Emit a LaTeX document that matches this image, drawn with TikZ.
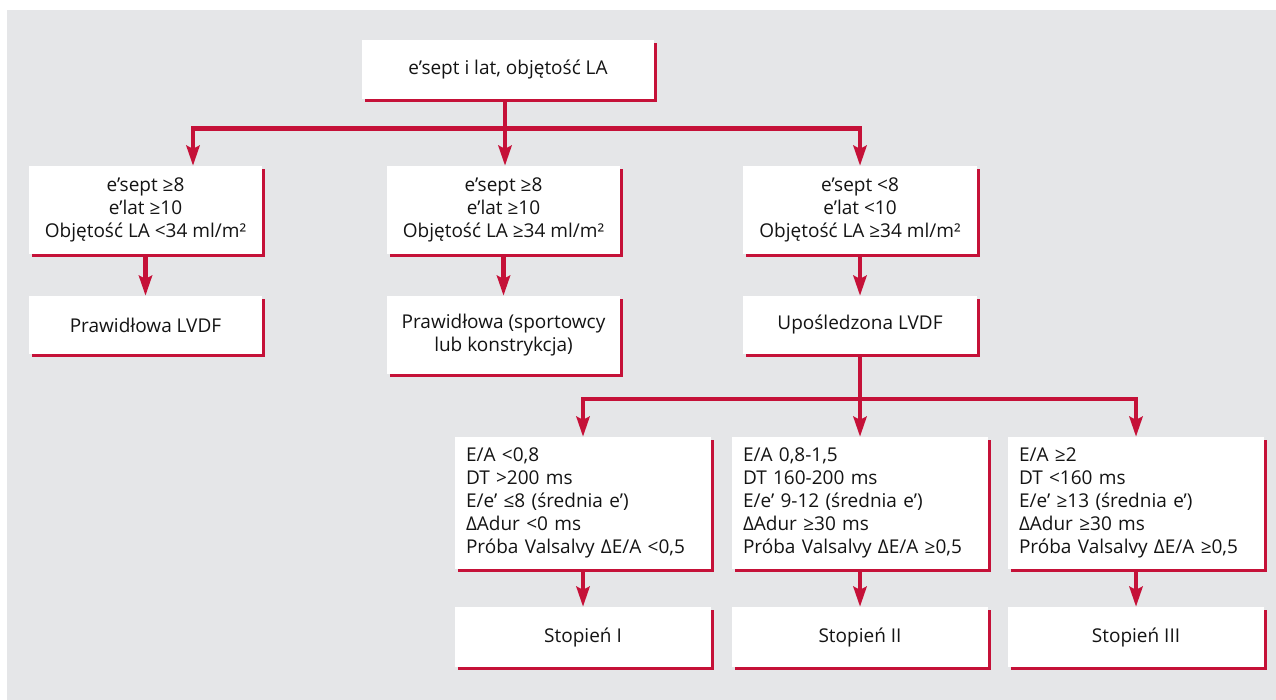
\documentclass[tikz,border=0pt]{standalone}
\usepackage{fontspec}
\setmainfont{Open Sans}
\usetikzlibrary{arrows.meta,shadows}
\definecolor{redc}{RGB}{197,17,56}
\definecolor{bgc}{RGB}{229,230,232}
\definecolor{txt}{RGB}{20,20,20}
\begin{document}
\begin{tikzpicture}[x=1pt,y=-1pt,
  box/.style={fill=white, drop shadow={shadow xshift=3pt,shadow yshift=-3pt,fill=redc,opacity=1},
    inner sep=0pt, align=center, font=\fontsize{19}{23}\selectfont, text=txt},
  lbox/.style={box, align=left, text width=234pt, inner xsep=11pt, minimum width=256pt},
  conn/.style={draw=redc, line width=4.5pt},
  arr/.style={conn, -{Stealth[length=20pt,width=13pt,inset=3pt]}}]
\useasboundingbox (0,0) rectangle (1276,700);
\fill[bgc] (7,10) rectangle (1276,700);

\node[box, minimum width=292pt, minimum height=59pt] (top) at (508,69.5) {e’sept i lat, objętość LA};

\node[box, minimum width=233pt, minimum height=88pt] (b1) at (145.5,210) {e’sept ≥8\\e’lat ≥10\\Objętość LA <34 ml/m²};
\node[box, minimum width=233pt, minimum height=88pt] (b2) at (503.5,210) {e’sept ≥8\\e’lat ≥10\\Objętość LA ≥34 ml/m²};
\node[box, minimum width=234pt, minimum height=88pt] (b3) at (860,210) {e’sept <8\\e’lat <10\\Objętość LA ≥34 ml/m²};

\node[box, minimum width=233pt, minimum height=58pt] (c1) at (145.5,325) {Prawidłowa LVDF};
\node[box, minimum width=233pt, minimum height=78pt] (c2) at (503.5,335) {Prawidłowa (sportowcy\\lub konstrykcja)};
\node[box, minimum width=234pt, minimum height=58pt] (c3) at (860,325) {Upośledzona LVDF};

\node[lbox, minimum height=132pt] (d1) at (583,503) {E/A <0,8\\DT >200 ms\\E/e’ ≤8 (średnia e’)\\ΔAdur <0 ms\\\mbox{Próba Valsalvy ΔE/A <0,5}};
\node[lbox, minimum height=132pt] (d2) at (860,503) {E/A 0,8-1,5\\DT 160-200 ms\\E/e’ 9-12 (średnia e’)\\ΔAdur ≥30 ms\\\mbox{Próba Valsalvy ΔE/A ≥0,5}};
\node[lbox, minimum height=132pt] (d3) at (1136,503) {E/A ≥2\\DT <160 ms\\E/e’ ≥13 (średnia e’)\\ΔAdur ≥30 ms\\\mbox{Próba Valsalvy ΔE/A ≥0,5}};

\node[box, minimum width=256pt, minimum height=60pt] (e1) at (583,637) {Stopień I};
\node[box, minimum width=256pt, minimum height=60pt] (e2) at (860,637) {Stopień II};
\node[box, minimum width=256pt, minimum height=60pt] (e3) at (1136,637) {Stopień III};

\coordinate (jt) at (505,128.5);
\coordinate (jb) at (860,399);

\draw[conn] (top.south -| jt) -- (jt);
\draw[arr] (jt) -| ([xshift=47.5pt]b1.north);
\draw[arr] (jt) -- (jt |- b2.north);
\draw[arr] (jt) -| (b3.north);

\draw[arr] (b1.south) -- (c1.north);
\draw[arr] (b2.south) -- (c2.north);
\draw[arr] (b3.south) -- (c3.north);

\draw[conn] (c3.south) -- (jb);
\draw[arr] (jb) -| (d1.north);
\draw[arr] (jb) -- (d2.north);
\draw[arr] (jb) -| (d3.north);

\draw[arr] (d1.south) -- (e1.north);
\draw[arr] (d2.south) -- (e2.north);
\draw[arr] (d3.south) -- (e3.north);
\end{tikzpicture}
\end{document}
